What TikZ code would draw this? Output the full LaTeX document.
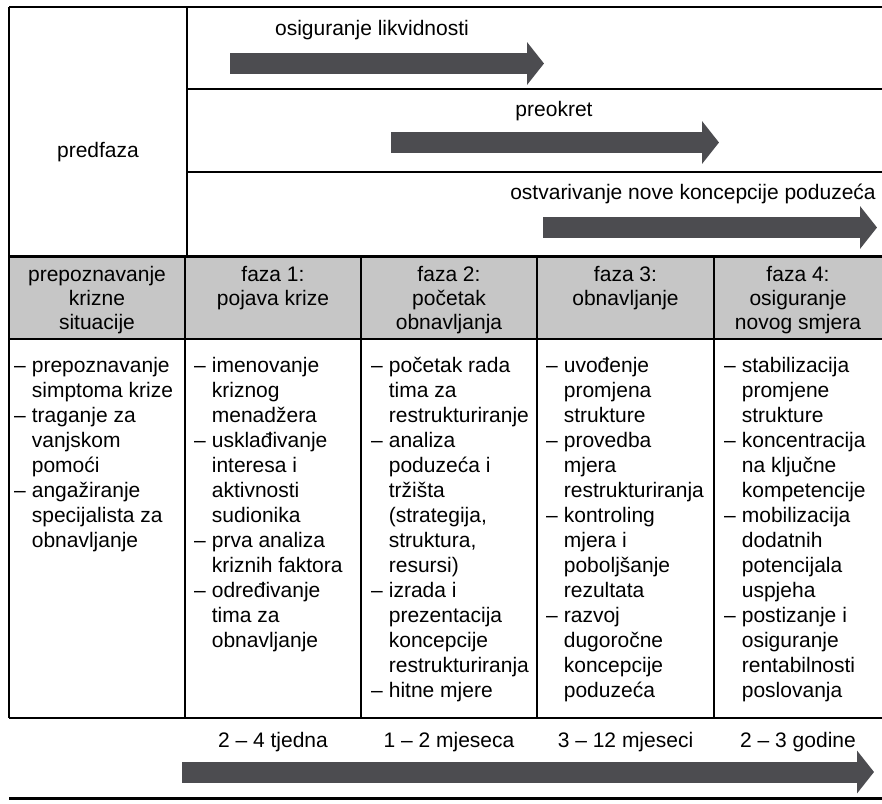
\documentclass[tikz,border=0pt]{standalone}
\usepackage{fontspec}
\setmainfont{Liberation Sans}
\usetikzlibrary{arrows.meta}
\definecolor{headgray}{RGB}{198,198,198}
\definecolor{bargray}{RGB}{76,76,80}

\begin{document}
\begin{tikzpicture}[x=1pt,y=-1pt]
        \tikzset{txt/.style={font=\fontsize{21}{25}\selectfont, inner sep=0pt, anchor=base},
        htxt/.style={txt, font=\fontsize{21}{24}\selectfont},
        btxt/.style={txt, anchor=base west},
        rule/.style={draw=black, line width=1.6pt},
        hrule/.style={draw=black, line width=3pt},
        bar/.style={draw=bargray, line width=21pt, -{Triangle[length=17pt,width=42pt]}},
        }
        \useasboundingbox (0,0) rectangle (882,803);
        \fill[headgray] (9,256) rectangle (882,339);
%%% frame
        \draw[rule] (9,7) -- (882,7);
        \draw[rule] (9,7) -- (9,718);
        \draw[rule] (187,7) -- (187,256);
        \draw[rule] (187,89) -- (882,89);
        \draw[rule] (187,172) -- (882,172);
        \draw[hrule] (9,256) -- (882,256);
        \draw[rule] (9,339) -- (882,339);
        \draw[rule] (185,256) -- (185,718);
        \draw[rule] (361,256) -- (361,718);
        \draw[rule] (537,256) -- (537,718);
        \draw[rule] (714,256) -- (714,718);
        \draw[line width=2.4pt] (9,718) -- (882,718);
        \draw[hrule] (9,798) -- (882,798);
%%% top rows
        \node [txt] (pre) at (98,157) {predfaza};
        \node [txt] (liq) at (372,35) {osiguranje likvidnosti};
        \node [txt] (turn) at (554,116) {preokret};
        \node [txt] (newc) at (693,199) {ostvarivanje nove koncepcije poduzeća};
        \coordinate (liq-a) at (230,63.5);
        \coordinate (liq-b) at (544,63.5);
        \coordinate (turn-a) at (391,142.5);
        \coordinate (turn-b) at (719,142.5);
        \coordinate (newc-a) at (543,227.5);
        \coordinate (newc-b) at (877,227.5);
%%% header
        \node [htxt] (h0) at (97,281) {\begin{tabular}[t]{@{}c@{}}prepoznavanje\\krizne\\situacije\end{tabular}};
        \node [htxt] (h1) at (273,281) {\begin{tabular}[t]{@{}c@{}}faza 1:\\pojava krize\end{tabular}};
        \node [htxt] (h2) at (449,281) {\begin{tabular}[t]{@{}c@{}}faza 2:\\početak\\obnavljanja\end{tabular}};
        \node [htxt] (h3) at (625.5,281) {\begin{tabular}[t]{@{}c@{}}faza 3:\\obnavljanje\end{tabular}};
        \node [htxt] (h4) at (798,281) {\begin{tabular}[t]{@{}c@{}}faza 4:\\osiguranje\\novog smjera\end{tabular}};
%%% body
        \node [btxt] (b0) at (14,372) {\begin{tabular}[t]{@{}l@{\hspace{6pt}}l@{}}
                –&prepoznavanje\\ &simptoma krize\\
                –&traganje za\\ &vanjskom\\ &pomoći\\
                –&angažiranje\\ &specijalista za\\ &obnavljanje\end{tabular}};
        \node [btxt] (b1) at (194,372) {\begin{tabular}[t]{@{}l@{\hspace{6pt}}l@{}}
                –&imenovanje\\ &kriznog\\ &menadžera\\
                –&usklađivanje\\ &interesa i\\ &aktivnosti\\ &sudionika\\
                –&prva analiza\\ &kriznih faktora\\
                –&određivanje\\ &tima za\\ &obnavljanje\end{tabular}};
        \node [btxt] (b2) at (371,372) {\begin{tabular}[t]{@{}l@{\hspace{6pt}}l@{}}
                –&početak rada\\ &tima za\\ &restrukturiranje\\
                –&analiza\\ &poduzeća i\\ &tržišta\\ &(strategija,\\ &struktura,\\ &resursi)\\
                –&izrada i\\ &prezentacija\\ &koncepcije\\ &restrukturiranja\\
                –&hitne mjere\end{tabular}};
        \node [btxt] (b3) at (546,372) {\begin{tabular}[t]{@{}l@{\hspace{6pt}}l@{}}
                –&uvođenje\\ &promjena\\ &strukture\\
                –&provedba\\ &mjera\\ &restrukturiranja\\
                –&kontroling\\ &mjera i\\ &poboljšanje\\ &rezultata\\
                –&razvoj\\ &dugoročne\\ &koncepcije\\ &poduzeća\end{tabular}};
        \node [btxt] (b4) at (724,372) {\begin{tabular}[t]{@{}l@{\hspace{6pt}}l@{}}
                –&stabilizacija\\ &promjene\\ &strukture\\
                –&koncentracija\\ &na ključne\\ &kompetencije\\
                –&mobilizacija\\ &dodatnih\\ &potencijala\\ &uspjeha\\
                –&postizanje i\\ &osiguranje\\ &rentabilnosti\\ &poslovanja\end{tabular}};
%%% time line
        \node [txt] (t1) at (273,747) {2 – 4 tjedna};
        \node [txt] (t2) at (449,747) {1 – 2 mjeseca};
        \node [txt] (t3) at (625.5,747) {3 – 12 mjeseci};
        \node [txt] (t4) at (798,747) {2 – 3 godine};
        \coordinate (time-a) at (182,772);
        \coordinate (time-b) at (874,772);
%%% arrows
        \draw[bar] (liq-a) -- (liq-b);
        \draw[bar] (turn-a) -- (turn-b);
        \draw[bar] (newc-a) -- (newc-b);
        \draw[bar] (time-a) -- (time-b);
\end{tikzpicture}
\end{document}
